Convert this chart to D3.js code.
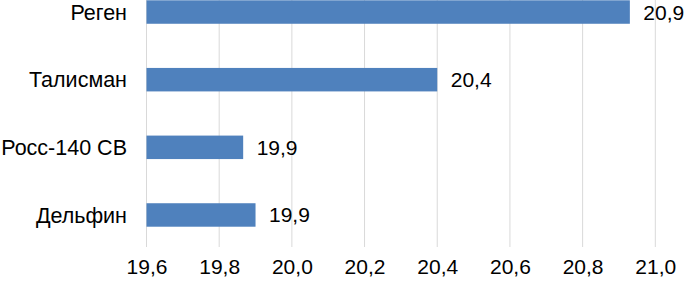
<!DOCTYPE html>
<html><head><meta charset="utf-8">
<script src="https://cdn.jsdelivr.net/npm/d3@7"></script>
<style>html,body{margin:0;padding:0;background:#fff;overflow:hidden}</style>
</head><body>
<svg id="c" width="686" height="285"></svg>
<script>
const categories = ["Реген", "Талисман", "Росс-140 СВ", "Дельфин"];
const values = [20.93, 20.4, 19.866, 19.9];
const valueLabels = ["20,9", "20,4", "19,9", "19,9"];
const ticks = [19.6, 19.8, 20.0, 20.2, 20.4, 20.6, 20.8, 21.0];
const tickLabels = ["19,6", "19,8", "20,0", "20,2", "20,4", "20,6", "20,8", "21,0"];

const svg = d3.select("#c");
const font = "'Liberation Sans', Arial, sans-serif";
const x = d3.scaleLinear().domain([19.6, 21.0]).range([146.5, 655.3]);
const y = d3.scaleBand().domain(categories).range([-21.8, 248.8]).paddingInner(0.653).paddingOuter(0.3265);

// gridlines
svg.append("g").selectAll("line").data(ticks).join("line")
  .attr("x1", d => x(d)).attr("x2", d => x(d))
  .attr("y1", 0).attr("y2", 247)
  .attr("stroke", "#d9d9d9").attr("stroke-width", 1);

// bars
svg.append("g").selectAll("rect").data(categories).join("rect")
  .attr("x", x(19.6))
  .attr("y", d => y(d))
  .attr("width", (d, i) => x(values[i]) - x(19.6))
  .attr("height", y.bandwidth())
  .attr("fill", "#4f81bd");

// value labels
svg.append("g").selectAll("text").data(categories).join("text")
  .attr("x", (d, i) => x(values[i]) + 13.5)
  .attr("y", d => y(d) + y.bandwidth() / 2 + 7.5)
  .attr("font-family", font).attr("font-size", 21).attr("fill", "#000")
  .text((d, i) => valueLabels[i]);

// category axis
const yAxis = d3.axisLeft(y).tickSize(0).tickPadding(0);
const gy = svg.append("g").attr("transform", "translate(127,0)").call(yAxis);
gy.select(".domain").remove();
gy.selectAll("text").attr("font-family", font).attr("font-size", 21.5).attr("fill", "#000")
  .attr("dy", "0.36em").attr("dx", 0);

// x axis labels
const xAxis = d3.axisBottom(x).tickValues(ticks).tickSize(0).tickPadding(0)
  .tickFormat((d, i) => tickLabels[i]);
const gx = svg.append("g").attr("transform", "translate(0,259)").call(xAxis);
gx.select(".domain").remove();
gx.selectAll("text").attr("font-family", font).attr("font-size", 21).attr("fill", "#000").attr("dy", "0.72em");
</script>
</body></html>
